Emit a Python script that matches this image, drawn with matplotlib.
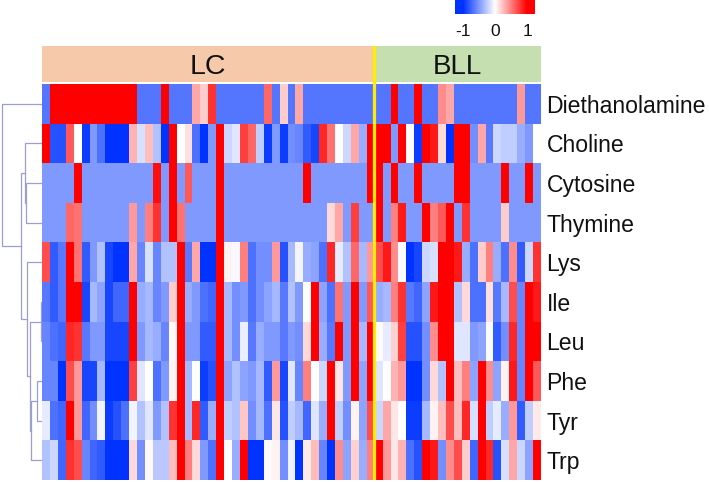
"""Clustered heatmap of metabolites in LC and BLL samples"""

import numpy as np
import matplotlib
matplotlib.use("Agg")
import matplotlib.pyplot as plt
from matplotlib.colors import LinearSegmentedColormap

plt.rcParams['font.family'] = ['Liberation Sans', 'DejaVu Sans']

row_labels = ["Diethanolamine", "Choline", "Cytosine", "Thymine", "Lys",
              "Ile", "Leu", "Phe", "Tyr", "Trp"]
n_lc = 42
n_bll = 21

diethanolamine = [-.67, 1, 1, 1, 1, 1, 1, 1, 1, 1,
                  1, 1, -.67, -.67, -.67, 1, -.67, -.67, -.67, .35,
                  .2, .8, -.67, -.67, -.67, -.67, -.67, -.67, .6, -.67,
                  .2, -.67, .35, -.67, -.67, -.67, -.67, -.67, -.67, -.67,
                  -.67, -.67, -.67, -.67, 1, -.67, -.67, 1, -.67, -.67,
                  .45, .35, -.67, -.67, -.67, -.67, -.67, -.67, -.67, -.67,
                  .4, -.67, -.67]
choline = [1, -.85, -.85, .65, 0, -.95, -.5, -.7, -1, -1,
           -1, .3, -.15, .25, -.3, -1, 1, 0, .12, -.7,
           -1, -.5, 1, -.2, -.12, .75, .6, -.25, -.95, -.5,
           -.95, -.55, -.6, -.8, -.9, .85, .55, 0, -.2, .35,
           -.4, 1, 1, 1, -.5, 1, .02, -.95, 1, .9,
           .15, -1, 1, 1, -.55, .35, -.65, -.2, -.25, -.25,
           -.4, -.5, 0]
cytosine = [-.5, -.5, -.5, -.5, 1, -.5, -.5, -.5, -.5, -.5,
            -.5, -.5, -.5, -.5, .95, -.5, 1, -.5, .65, -.5,
            -.5, -.5, 1, -.5, -.5, -.5, -.5, -.5, -.5, -.5,
            -.5, -.5, -.5, 1, -.5, -.5, -.5, -.5, -.5, -.5,
            -.5, 1, 1, -.5, 1, -.5, -.5, 1, -.5, -.5,
            -.5, -.5, 1, 1, -.5, -.5, -.5, -.5, 1, -.5,
            -.5, 1, -.5]
thymine = [-.5, -.5, -.5, .6, .55, -.5, -.5, -.5, -.5, -.5,
           -.5, .4, -.5, .5, .8, -.5, 1, .55, -.5, -.5,
           -.5, -.5, 1, -.5, -.5, -.5, -.5, -.5, -.5, -.5,
           -.5, -.5, -.5, -.5, -.5, -.5, .15, .35, -.5, .75,
           -.5, -.5, 1, -.5, .5, .9, -.5, -.5, 1, .5,
           .65, 1, -.5, .8, -.5, -.5, -.5, -.5, .2, -.5,
           -.5, -.5, -.5]
lys = [.7, -.8, -.65, 1, .55, -.8, -.5, -.3, -.9, -1,
       -1, .35, -.6, -.15, -.6, -.3, -.3, 1, -.65, .35,
       -1, -1, 1, .05, -.03, .5, -.7, -.55, -.55, .4,
       -.85, -.35, -.05, -.4, -.45, -.7, .85, -.1, -.3, .6,
       -.35, .4, .7, .9, .45, -.02, -1, -.9, -.2, -.15,
       1, 1, .9, -.4, -.7, .2, .5, -.4, -.7, .45,
       -.8, -.2, .8]
ile = [-.65, -.8, -.65, 1, 1, -.9, -.35, -.45, -.9, -.75,
       -.75, 1, -.4, -.35, -.6, -.5, .2, 1, -.4, -.5,
       -.7, -.75, 1, -.35, -.55, -.5, -.7, -.55, -.45, -.35,
       -.65, -.3, -.5, 0, 1, -.45, -.7, .55, -.5, 1,
       -.5, .65, -.4, -.35, .5, .8, -.65, -.75, -.45, .9,
       1, 1, -.3, .15, -.7, -.7, .12, -.65, -.35, .7,
       -.6, 1, .9]
leu = [-.6, -.7, -.75, .85, .8, -.65, -.5, -.5, -.9, -.9,
       -.9, 1, -.5, -.35, -.4, -.6, .03, 1, -.5, -.5,
       -.8, -.8, 1, -.35, -.55, -.08, -.65, -.4, -.5, -.5,
       -.65, -.5, -.55, .15, 1, -.4, -.65, 1, -.5, 1,
       -.35, 1, .02, -.1, .18, .75, -.85, -.85, -.55, .45,
       1, 1, -.12, -.12, -.5, -.45, -.02, -.8, -.55, .85,
       -.6, 1, 1]
phe = [-.6, -.6, -1, .7, .4, -.9, -.9, -.35, -1, -1,
       -1, .75, -.12, 0, -.7, -.5, .05, 1, -.35, 0,
       -.95, -.85, 1, -.45, -.3, -.45, -.5, -.35, -.8, .4,
       -.9, -.12, -.6, .5, 0, -.2, 1, .1, -.5, 1,
       -.45, 1, -.12, 0, .3, .4, -1, -1, -.55, .15,
       -.3, 1, .25, .5, -.45, 1, .45, -.45, .05, .9,
       -.6, 1, .65]
tyr = [-.1, -.7, -.75, 1, .4, -.75, -.55, -.05, -.95, -.85,
       -.7, -.05, -.3, -.12, -.5, -.3, .8, 1, -.35, .85,
       -.8, -.4, 1, -.25, -.3, .22, -.55, -.35, -.7, .1,
       -.85, -.25, -.35, -.75, -.12, -.4, 1, -.25, -.55, .05,
       -.45, .7, -.2, .35, .1, 0, -.95, -.95, -.35, .05,
       .25, .7, .25, .85, -.15, 1, -.25, -.1, -.4, .4,
       -.8, -.25, .08]
trp = [-.3, -.2, -.75, .8, .7, -.6, -.75, -.8, -1, -1,
       -1, .15, -.55, .03, -.27, -.27, .25, 1, .5, .15,
       -.5, -.7, 1, 0, -.4, 1, -1, -1, .02, .05,
       -.55, -.07, -1, .08, .27, -.6, -1, .45, -.45, .18,
       -.4, .5, 1, .4, .1, .3, -.7, -.85, 1, .9,
       -.55, .45, .7, .2, -.75, 1, .85, -.85, -.15, .35,
       -.2, -.45, 1]

# dendrogram merges, nodes numbered after the 10 leaves
merge_left = [2, 1, 5, 7, 13, 12, 4, 11, 0]
merge_right = [3, 10, 6, 8, 9, 14, 15, 16, 17]
merge_height = [16, 17, 1, 4.5, 10.5, 11.5, 14.5, 20.5, 39.5]

W, H = 709, 482
fig = plt.figure(figsize=(W / 100, H / 100), dpi=100, facecolor='w')


def px_axes(x0, y0, x1, y1):
    """Axes placed by pixel box, y counted from the top of the figure"""
    ax = fig.add_axes([x0 / W, 1 - y1 / H, (x1 - x0) / W, (y1 - y0) / H])
    ax.set_xticks([])
    ax.set_yticks([])
    for s in ax.spines.values():
        s.set_visible(False)
    return ax


cmap = LinearSegmentedColormap.from_list("bwr2", ["#0033ff", "#ffffff", "#ff0000"])
yellow = "#ffee00"

data = np.array([diethanolamine, choline, cytosine, thymine, lys,
                 ile, leu, phe, tyr, trp])

# main heatmap
ax = px_axes(42, 84, 541, 480)
ax.pcolormesh(np.arange(data.shape[1] + 1), np.arange(data.shape[0] + 1), data,
              cmap=cmap, vmin=-1, vmax=1, linewidth=0, rasterized=True)
ax.set_xlim(0, n_lc + n_bll)
ax.set_ylim(len(row_labels), 0)
ax.yaxis.tick_right()
ax.set_yticks(np.arange(len(row_labels)) + 0.5)
ax.set_yticklabels(row_labels, fontsize=16.6, color='#111111')
ax.tick_params(axis='y', length=0, pad=4)
ax.axvline(n_lc - 0.1, color=yellow, lw=2.3)

# group bar
bar = px_axes(42, 46, 541, 84)
bar.barh(0.5, n_lc, height=1, left=0, color="#f5c9a9")
bar.barh(0.5, n_bll, height=1, left=n_lc, color="#c5dfb1")
bar.set_xlim(0, n_lc + n_bll)
bar.set_ylim(-0.06, 1)
bar.axvline(n_lc - 0.1, color=yellow, lw=2.3)
bar.text(n_lc / 2, 0.42, "LC", ha='center', va='center', fontsize=20.5, color='#111111')
bar.text(n_lc + n_bll / 2, 0.42, "BLL", ha='center', va='center', fontsize=20, color='#111111')

# dendrogram
den = px_axes(0, 84, 41.5, 480)
den.set_xlim(41.5, 0)
den.set_ylim(len(row_labels), 0)
pos = {i: (0.0, i + 0.5) for i in range(len(row_labels))}
for k in range(len(merge_height)):
    h0, y0 = pos[merge_left[k]]
    h1, y1 = pos[merge_right[k]]
    h = merge_height[k]
    den.plot([h0, h, h, h1], [y0, y0, y1, y1], color="#9d9dd0", lw=0.9, solid_joinstyle='miter')
    pos[len(row_labels) + k] = (h, (y0 + y1) / 2)

# colour key
key = px_axes(455, 0, 535, 14)
key.imshow(np.linspace(-1.25, 1.25, 256)[None, :], cmap=cmap, vmin=-1, vmax=1,
           aspect='auto', extent=[-1.25, 1.25, 0, 1])
key.set_xticks([-1, 0, 1])
key.set_xticklabels(["-1", "0", "1"], fontsize=12.5, color='#111111')
key.tick_params(axis='x', length=0, pad=7)

fig.savefig("out.png", dpi=100)
